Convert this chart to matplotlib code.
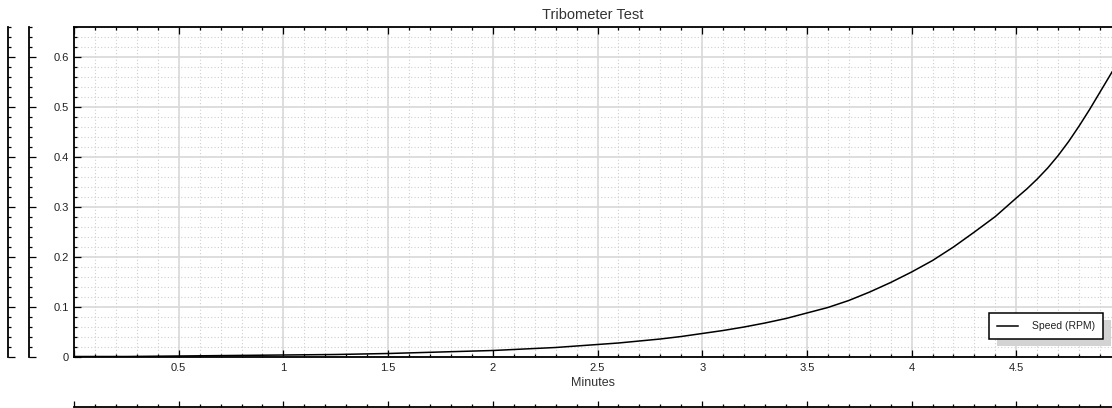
import matplotlib.pyplot as plt
from matplotlib.ticker import MultipleLocator, FuncFormatter
import matplotlib.patheffects as pe

plt.rcParams['font.family'] = ['Liberation Sans', 'DejaVu Sans']

# values
minutes = [0.0, 0.25, 0.5, 0.75, 1.0, 1.25, 1.5, 1.75,
           2.0, 2.1, 2.2, 2.3, 2.4, 2.5, 2.6, 2.7, 2.8, 2.9,
           3.0, 3.1, 3.2, 3.3, 3.4, 3.5, 3.6, 3.7, 3.8, 3.9,
           4.0, 4.1, 4.2, 4.3, 4.4, 4.5, 4.55, 4.6, 4.65, 4.7, 4.75,
           4.8, 4.85, 4.9, 4.93, 4.957]
speed_rpm = [0.001, 0.001, 0.002, 0.003, 0.004, 0.005, 0.007, 0.010,
             0.013, 0.015, 0.017, 0.019, 0.022, 0.025, 0.028, 0.032, 0.036, 0.041,
             0.047, 0.053, 0.060, 0.068, 0.077, 0.088, 0.099, 0.113, 0.130, 0.149,
             0.170, 0.193, 0.220, 0.250, 0.281, 0.318, 0.336, 0.356, 0.378, 0.403, 0.431,
             0.462, 0.495, 0.530, 0.551, 0.570]

x_lim = (0, 4.957)
y_lim = (0, 0.66)

W, H = 1112, 408
fig = plt.figure(figsize=(W / 100, H / 100), dpi=100)

#%%
# main axes

ax = fig.add_axes([74 / W, 51 / H, (W - 74) / W, 330 / H])
ax.plot(minutes, speed_rpm, color='black', lw=1.1, label='Speed (RPM)')
ax.set_xlim(*x_lim)
ax.set_ylim(*y_lim)

ax.xaxis.set_major_locator(MultipleLocator(0.5))
ax.xaxis.set_minor_locator(MultipleLocator(0.1))
ax.yaxis.set_major_locator(MultipleLocator(0.1))
ax.yaxis.set_minor_locator(MultipleLocator(0.02))
ax.xaxis.set_major_formatter(FuncFormatter(lambda v, p: '' if abs(v) < 1e-9 else f'{v:g}'))
ax.yaxis.set_major_formatter(FuncFormatter(lambda v, p: f'{v:g}'))

ax.grid(which='major', color='#d8d8d8', lw=1.2, ls='-')
ax.grid(which='minor', color='#cfcfcf', lw=0.8, ls=(0, (1, 2)))
ax.set_axisbelow(True)

ax.spines['right'].set_visible(False)
for s in ['left', 'bottom', 'top']:
    ax.spines[s].set_linewidth(1.3)

ax.tick_params(which='both', direction='in', top=True, right=False,
               colors='black', labelcolor='#222222', labelsize=8, width=0.9)
ax.tick_params(which='major', length=5)
ax.tick_params(which='minor', length=2.3)
ax.tick_params(axis='x', pad=4.5)
ax.tick_params(axis='y', pad=3.5)

ax.set_xlabel('Minutes', fontsize=9, color='#333333', labelpad=2.5)
ax.set_title('Tribometer Test', fontsize=10.5, color='#333333', pad=6)

leg = ax.legend(loc='lower right', bbox_to_anchor=(0.9913, 0.0545),
                borderaxespad=0, fontsize=7.5, fancybox=False, framealpha=1,
                edgecolor='black', handlelength=2.1, handletextpad=1.3,
                borderpad=0.75)
leg.get_frame().set_linewidth(1.1)
leg.get_frame().set_path_effects([
    pe.SimplePatchShadow(offset=(5.8, -5), shadow_rgbFace='#d3d3d3', alpha=1),
    pe.Normal()])
for t in leg.get_texts():
    t.set_color('#222222')

#%%
# extra empty axes on the left and bottom

for xpos in [8.3, 28.7]:
    side = fig.add_axes([xpos / W, 51 / H, 0.5 / W, 330 / H])
    side.set_ylim(*y_lim)
    side.patch.set_visible(False)
    for s in ['right', 'bottom', 'top']:
        side.spines[s].set_visible(False)
    side.spines['left'].set_linewidth(1.3)
    side.set_xticks([])
    side.yaxis.set_major_locator(MultipleLocator(0.1))
    side.yaxis.set_minor_locator(MultipleLocator(0.02))
    side.tick_params(which='both', direction='in', labelleft=False, width=0.9)
    side.tick_params(which='major', length=5)
    side.tick_params(which='minor', length=2.5)

bottom = fig.add_axes([74 / W, 1.3 / H, (W - 74) / W, 0.5 / H])
bottom.set_xlim(*x_lim)
bottom.patch.set_visible(False)
for s in ['left', 'right', 'top']:
    bottom.spines[s].set_visible(False)
bottom.spines['bottom'].set_linewidth(1.3)
bottom.set_yticks([])
bottom.xaxis.set_major_locator(MultipleLocator(0.5))
bottom.xaxis.set_minor_locator(MultipleLocator(0.1))
bottom.tick_params(which='both', direction='in', labelbottom=False, width=0.9)
bottom.tick_params(which='major', length=4.5)
bottom.tick_params(which='minor', length=2.3)

fig.savefig('out.png', dpi=100)
